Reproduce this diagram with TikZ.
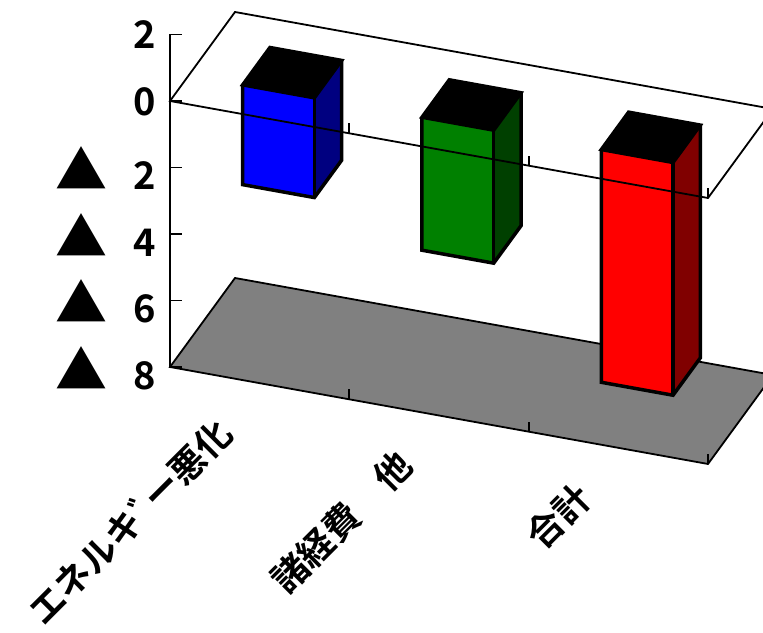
\documentclass[tikz,border=0pt]{standalone}
\usepackage{fontspec}
\newfontfamily\jpfont{Noto Sans CJK JP Bold}
\usetikzlibrary{calc}

\definecolor{bluefront}{RGB}{0,0,255}
\definecolor{blueside}{RGB}{0,0,128}
\definecolor{greenfront}{RGB}{0,128,0}
\definecolor{greenside}{RGB}{0,64,0}
\definecolor{redfront}{RGB}{255,0,0}
\definecolor{redside}{RGB}{128,0,0}
\definecolor{floorgray}{RGB}{128,128,128}

\tikzset{
  barline/.style={line width=3.5pt, line join=miter, draw=black},
  planeline/.style={line width=1.8pt, line join=miter},
  ticklbl/.style={font=\jpfont\fontsize{38}{38}\selectfont, anchor=east, inner sep=0pt},
  catlbl/.style={font=\jpfont\fontsize{36}{36}\selectfont, anchor=east, rotate=45, inner sep=0pt},
}

% one bar: #1 = left category position, #2 = value, #3 = front colour, #4 = side colour
\newcommand{\drawbar}[4]{%
  \fill[#3] (#1,0,0.29) -- (#1+0.4,0,0.29) -- (#1+0.4,#2,0.29) -- (#1,#2,0.29) -- cycle;
  \fill[#4] (#1+0.4,0,0.29) -- (#1+0.4,0,0.71) -- (#1+0.4,#2,0.71) -- (#1+0.4,#2,0.29) -- cycle;
  \filldraw[barline, fill=black] (#1,0,0.29) -- (#1+0.4,0,0.29) -- (#1+0.4,0,0.71) -- (#1,0,0.71) -- cycle;
  \draw[barline] (#1,0,0.29) -- (#1,#2,0.29) -- (#1+0.4,#2,0.29) -- (#1+0.4,#2,0.71) -- (#1+0.4,0,0.71);
  \draw[barline] (#1+0.4,0,0.29) -- (#1+0.4,#2,0.29);
}
\newcommand{\tri}{{\fontsize{52}{52}\selectfont ▲}\hspace{26pt}}

\begin{document}
\begin{tikzpicture}[x=1pt,y=1pt]
\useasboundingbox (0,0) rectangle (763,632);
\clip (0,0) rectangle (763,632);
\begin{scope}[shift={(170pt,531pt)}, x={(179.33pt,-32.33pt)}, y={(0pt,33.25pt)}, z={(65pt,89pt)}]

%Floor
\filldraw[planeline, fill=floorgray] (0,-8,0) -- (3,-8,0) -- (3,-8,1) -- (0,-8,1) -- cycle;
\foreach \c in {1,2,3}
  \draw[planeline] (\c,-8,0) -- ++(0pt,10pt);

%Bars
\drawbar{0.3}{-3}{bluefront}{blueside}
\drawbar{1.3}{-4}{greenfront}{greenside}
\drawbar{2.3}{-7}{redfront}{redside}

%Zero plane
\draw[planeline] (0,0,0) -- (3,0,0) -- (3,0,1) -- (0,0,1) -- cycle;
\foreach \c in {1,2,3}
  \draw[planeline] (\c,0,0) -- ++(0pt,10pt);

%Value axis
\draw[planeline] (0,2,0) -- (0,-8,0);
\foreach \v in {2,0,-2,-4,-6,-8}
  \draw[planeline] (0,\v,0) -- ++(12pt,0pt);

% Tick labels
\node[ticklbl] (yl2) at ($(0,2,0)+(-14pt,0pt)$) {2};
\node[ticklbl] (yl0) at ($(0,0,0)+(-14pt,-1pt)$) {0};
\node[ticklbl] (ylm2) at ($(0,-2,0)+(-14pt,-1pt)$) {\tri2};
\node[ticklbl] (ylm4) at ($(0,-4,0)+(-14pt,-1pt)$) {\tri4};
\node[ticklbl] (ylm6) at ($(0,-6,0)+(-14pt,-1pt)$) {\tri6};
\node[ticklbl] (ylm8) at ($(0,-8,0)+(-14pt,-1pt)$) {\tri8};

% Category labels
\node[catlbl] (catA) at ($(0.5,-8,0)+(-34pt,-43pt)$) {エネルキﾞー悪化};
\node[catlbl] (catB) at ($(1.5,-8,0)+(-34pt,-43pt)$) {諸経費　他};
\node[catlbl] (catC) at ($(2.5,-8,0)+(-34pt,-43pt)$) {合計};

\end{scope}
\end{tikzpicture}
\end{document}
